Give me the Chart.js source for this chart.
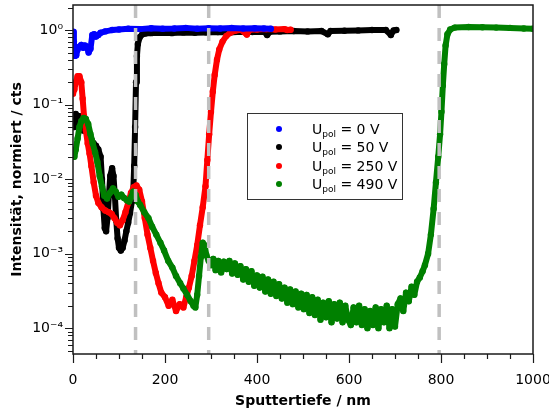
<!DOCTYPE html>
<html>
<head>
<meta charset="utf-8">
<script src="https://cdn.jsdelivr.net/npm/chart.js@4.4.0/dist/chart.umd.min.js"></script>
<style>
body{margin:0;background:#fff}
</style>
</head>
<body>
<canvas id="myChart" width="549" height="410"></canvas>
<script>
//data: sputter depth (nm) and normalised intensity (cts)
var blueDepth = [0, 2, 4, 7, 10, 14, 18, 22, 26, 30, 34, 38, 42, 46, 50, 55, 60, 70, 85, 100, 120, 145, 170, 195, 220, 245, 270, 295, 320, 345, 370, 395, 415, 430];
var blueInt = [0.95, 0.7, 0.45, 0.46, 0.55, 0.6, 0.63, 0.58, 0.62, 0.6, 0.5, 0.56, 0.86, 0.88, 0.82, 0.86, 0.92, 0.96, 1.0, 1.02, 1.04, 1.03, 1.06, 1.04, 1.05, 1.07, 1.04, 1.06, 1.05, 1.07, 1.05, 1.06, 1.05, 1.04];

var blackDepth = [0, 3, 6, 10, 14, 18, 22, 26, 30, 35, 40, 45, 50, 55, 60, 63, 66, 69, 72, 75, 78, 81, 85, 88, 91, 94, 97, 100, 104, 108, 112, 116, 120, 124, 128, 131, 133, 135, 137, 139, 141, 145, 150, 157, 170, 190, 215, 240, 265, 290, 315, 340, 365, 390, 415, 422, 428, 450, 480, 510, 540, 554, 560, 590, 620, 650, 680, 691, 697, 703];
var blackInt = [0.065, 0.05, 0.075, 0.06, 0.07, 0.05, 0.045, 0.05, 0.042, 0.038, 0.034, 0.03, 0.028, 0.025, 0.02, 0.01, 0.004, 0.0022, 0.002, 0.003, 0.006, 0.011, 0.014, 0.011, 0.006, 0.0028, 0.0016, 0.0012, 0.0011, 0.0012, 0.0015, 0.002, 0.0026, 0.0035, 0.005, 0.007, 0.015, 0.05, 0.2, 0.45, 0.65, 0.8, 0.87, 0.9, 0.91, 0.92, 0.91, 0.93, 0.92, 0.93, 0.94, 0.93, 0.95, 0.94, 0.95, 0.86, 0.95, 0.96, 0.97, 0.96, 0.97, 0.88, 0.97, 0.98, 0.99, 1.0, 1.0, 0.86, 0.99, 1.0];

var redDepth = [0, 3, 6, 10, 14, 18, 21, 24, 28, 32, 36, 40, 45, 50, 55, 62, 70, 78, 84, 90, 96, 102, 108, 114, 120, 126, 132, 138, 144, 150, 156, 162, 168, 174, 180, 186, 192, 200, 208, 216, 224, 232, 240, 246, 252, 258, 264, 270, 276, 282, 288, 292, 296, 300, 304, 308, 313, 318, 325, 333, 342, 352, 365, 378, 384, 400, 420, 440, 460, 466, 473];
var redInt = [0.14, 0.16, 0.2, 0.24, 0.24, 0.2, 0.12, 0.07, 0.045, 0.03, 0.022, 0.015, 0.009, 0.006, 0.0048, 0.0042, 0.0038, 0.0036, 0.0034, 0.003, 0.0026, 0.0024, 0.0028, 0.0036, 0.0048, 0.0065, 0.0078, 0.0082, 0.0072, 0.005, 0.003, 0.0018, 0.0012, 0.0008, 0.00055, 0.0004, 0.0003, 0.00026, 0.0002, 0.00024, 0.00017, 0.00021, 0.00019, 0.00026, 0.00035, 0.0005, 0.0008, 0.0013, 0.0024, 0.0042, 0.008, 0.018, 0.04, 0.08, 0.15, 0.25, 0.4, 0.55, 0.7, 0.83, 0.92, 0.98, 1.01, 0.87, 1.01, 1.02, 1.03, 1.02, 1.03, 1.0, 1.01];

var greenDepth = [0, 3, 6, 10, 14, 18, 23, 28, 33, 38, 43, 48, 53, 58, 63, 68, 74, 80, 87, 93, 99, 105, 111, 117, 122, 127, 131, 136, 141, 146, 155, 164, 172, 181, 190, 198, 207, 216, 224, 233, 240, 248, 256, 262, 266, 270, 274, 278, 282, 286, 290, 295, 300,
  305, 310, 316, 322, 328, 334, 340, 346, 352, 358, 364, 370, 376, 382, 388, 394, 400, 406, 412, 418, 424, 430, 436, 442, 448, 454, 460, 466, 472, 478, 484, 490, 496, 502, 508, 514, 520, 526, 532, 538, 544, 550, 556, 562, 568, 574, 580, 586, 592, 598, 604, 610, 616, 622, 628, 634, 640, 646, 652, 658, 664, 670, 676, 682, 688, 694, 700, 706, 712, 718, 724, 730, 736, 742, 748, 754, 760,
  765, 772, 778, 784, 789, 794, 798, 801, 804, 807, 810, 814, 820, 830, 860, 890, 920, 950, 980, 1000];
var greenInt = [0.022, 0.02, 0.025, 0.035, 0.05, 0.06, 0.066, 0.064, 0.055, 0.04, 0.03, 0.023, 0.017, 0.011, 0.008, 0.006, 0.0055, 0.0065, 0.0075, 0.0068, 0.0058, 0.0062, 0.0056, 0.0052, 0.005, 0.0058, 0.0068, 0.0062, 0.005, 0.0045, 0.0036, 0.003, 0.0023, 0.0018, 0.0014, 0.0011, 0.0008, 0.00065, 0.0005, 0.0004, 0.00034, 0.00028, 0.00023, 0.0002, 0.00019, 0.00028, 0.0005, 0.0009, 0.0014, 0.0013, 0.00095, 0.0008, 0.0007,
  8.5e-4, 6.0e-4, 8.0e-4, 5.6e-4, 7.8e-4, 6.2e-4, 8.0e-4, 5.4e-4, 7.4e-4, 5.2e-4, 6.8e-4, 4.5e-4, 6.2e-4, 4.2e-4, 5.8e-4, 3.7e-4, 5.1e-4, 3.5e-4, 4.9e-4, 3.1e-4, 4.5e-4, 2.9e-4, 4.2e-4, 2.7e-4, 3.9e-4, 2.5e-4, 3.5e-4, 2.2e-4, 3.3e-4, 2.1e-4, 3.1e-4, 1.9e-4, 2.9e-4, 1.8e-4, 2.8e-4, 1.6e-4, 2.6e-4, 1.5e-4, 2.4e-4, 1.3e-4, 2.2e-4, 1.4e-4, 2.3e-4, 1.2e-4, 2.1e-4, 1.35e-4, 2.2e-4, 1.2e-4, 2.0e-4, 1.3e-4, 1.1e-4, 1.9e-4, 1.2e-4, 2.0e-4, 1.1e-4, 1.8e-4, 1.0e-4, 1.7e-4, 1.1e-4, 1.9e-4, 1.0e-4, 1.8e-4, 1.2e-4, 2.0e-4, 1.0e-4, 1.8e-4, 1.05e-4, 2.1e-4, 2.5e-4, 1.7e-4, 3.0e-4, 2.3e-4, 3.6e-4, 2.8e-4, 4.2e-4, 4.8e-4, 5.8e-4,
  7e-4, 0.001, 0.0018, 0.004, 0.009, 0.02, 0.04, 0.08, 0.18, 0.35, 0.62, 0.88, 1.02, 1.08, 1.1, 1.09, 1.08, 1.07, 1.05, 1.04];

var seriesLabels = ['0 V', '50 V', '250 V', '490 V'];
var seriesColors = ['#0000ff', '#000000', '#ff0000', '#008000'];
var seriesOrder = [1, 3, 2, 0];

//axis ticks
var xTickLabels = [0, 200, 400, 600, 800, 1000];
var yExponents = [-4, -3, -2, -1, 0];
var yTickLabels = ['10\u207B\u2074', '10\u207B\u00B3', '10\u207B\u00B2', '10\u207B\u00B9', '10\u2070'];
var yMin = 4.5e-5, yMax = 2.17;

//dashed layer boundaries (nm)
var boundaries = [136, 295, 796];

function toPoints(xs, ys) {
	return xs.map(function(x, i) { return {x: x, y: ys[i]}; });
}
var allDepth = [blueDepth, blackDepth, redDepth, greenDepth];
var allInt = [blueInt, blackInt, redInt, greenInt];

var datasets = seriesLabels.map(function(lab, i) {
	return {
		label: 'Upol = ' + lab,
		data: toPoints(allDepth[i], allInt[i]),
		showLine: true,
		borderColor: seriesColors[i],
		backgroundColor: seriesColors[i],
		borderWidth: 6,
		borderJoinStyle: 'round',
		borderCapStyle: 'round',
		pointRadius: 3.2,
		pointBorderWidth: 0,
		pointBackgroundColor: seriesColors[i],
		order: seriesOrder[i]
	};
});

var xMinor = [];
for (var v = 0; v <= 1000; v += 50) xMinor.push(v);
var yMinor = [];
for (var e = -5; e <= 0; e++) {
	for (var m = 1; m <= 9; m++) {
		var val = m * Math.pow(10, e);
		if (val >= yMin && val <= yMax) yMinor.push(val);
	}
}
function decadeOf(value) {
	var ex = Math.round(Math.log10(value));
	if (Math.abs(value / Math.pow(10, ex) - 1) < 1e-6) return ex;
	return null;
}

var font = 'DejaVu Sans';

//frame, tick marks and dashed lines
var framePlugin = {
	id: 'frame',
	afterDatasetsDraw: function(chart) {
		var ctx = chart.ctx, a = chart.chartArea, xs = chart.scales.x;
		ctx.save();
		ctx.beginPath();
		ctx.rect(a.left, a.top, a.right - a.left, a.bottom - a.top);
		ctx.clip();
		ctx.strokeStyle = '#c0c0c0';
		ctx.lineWidth = 3.5;
		ctx.setLineDash([13, 10]);
		boundaries.forEach(function(b) {
			var px = xs.getPixelForValue(b);
			ctx.beginPath();
			ctx.moveTo(px, a.top);
			ctx.lineTo(px, a.bottom);
			ctx.stroke();
		});
		ctx.restore();
	},
	afterDraw: function(chart) {
		var ctx = chart.ctx, a = chart.chartArea, xs = chart.scales.x, ys = chart.scales.y;
		ctx.save();
		ctx.strokeStyle = '#1a1a1a';
		ctx.lineWidth = 1.5;
		ctx.strokeRect(a.left, a.top, a.right - a.left, a.bottom - a.top);
		ctx.lineWidth = 1.2;
		ctx.beginPath();
		xMinor.forEach(function(t) {
			var px = Math.round(xs.getPixelForValue(t)) + 0.5;
			var len = xTickLabels.indexOf(t) >= 0 ? 9 : 5;
			ctx.moveTo(px, a.bottom);
			ctx.lineTo(px, a.bottom + len);
		});
		yMinor.forEach(function(t) {
			var py = Math.round(ys.getPixelForValue(t)) + 0.5;
			var len = decadeOf(t) !== null ? 8 : 5;
			ctx.moveTo(a.left - len, py);
			ctx.lineTo(a.left, py);
		});
		ctx.stroke();
		ctx.restore();
	}
};

//legend box with subscript
var legendPlugin = {
	id: 'legendBox',
	afterDraw: function(chart) {
		var ctx = chart.ctx;
		var bx = 247.5, by = 113.5, bw = 155, bh = 86;
		var rowY = [129, 147, 166, 184];
		ctx.save();
		ctx.fillStyle = '#fff';
		ctx.fillRect(bx, by, bw, bh);
		ctx.strokeStyle = '#333';
		ctx.lineWidth = 1;
		ctx.strokeRect(bx, by, bw, bh);
		seriesLabels.forEach(function(lab, i) {
			var y = rowY[i];
			ctx.fillStyle = seriesColors[i];
			ctx.beginPath();
			ctx.arc(279, y, 3, 0, Math.PI * 2);
			ctx.fill();
			ctx.fillStyle = '#000';
			ctx.textBaseline = 'alphabetic';
			ctx.font = '14px "' + font + '"';
			var x = 312;
			ctx.fillText('U', x, y + 5);
			x += ctx.measureText('U').width;
			ctx.font = '9px "' + font + '"';
			ctx.fillText('pol', x, y + 8);
			x += ctx.measureText('pol').width;
			ctx.font = '14px "' + font + '"';
			ctx.fillText(' = ' + lab, x, y + 5);
		});
		ctx.restore();
	}
};

var myChart = new Chart(document.getElementById('myChart').getContext('2d'), {
	type: 'scatter',
	data: { datasets: datasets },
	options: {
		responsive: false,
		animation: false,
		layout: { padding: { left: 0, top: 5, right: 16, bottom: 0 } },
		plugins: { legend: { display: false }, tooltip: { enabled: false } },
		scales: {
			x: {
				type: 'linear', min: 0, max: 1000,
				afterBuildTicks: function(s) { s.ticks = xMinor.map(function(v) { return {value: v}; }); },
				afterFit: function(s) { s.height = 56; s.paddingLeft = 0; s.paddingRight = 0; },
				ticks: {
					autoSkip: false, maxRotation: 0, padding: 18, color: '#000',
					font: { family: font, size: 14 },
					callback: function(v) { return xTickLabels.indexOf(v) >= 0 ? String(v) : ''; }
				},
				grid: { display: false, drawTicks: false },
				border: { display: false },
				title: {
					display: true, text: 'Sputtertiefe / nm', color: '#000',
					font: { family: font, size: 14, weight: 'bold' },
					padding: { top: 0, bottom: 0 }
				}
			},
			y: {
				type: 'logarithmic', min: yMin, max: yMax,
				afterBuildTicks: function(s) { s.ticks = yMinor.map(function(v) { return {value: v}; }); },
				afterFit: function(s) { s.width = 73; s.paddingTop = 0; s.paddingBottom = 0; },
				ticks: {
					autoSkip: false, padding: 10, color: '#000',
					font: { family: font, size: 14 },
					callback: function(v) {
						var ex = decadeOf(v);
						var k = yExponents.indexOf(ex);
						return k >= 0 ? yTickLabels[k] : '';
					}
				},
				grid: { display: false, drawTicks: false },
				border: { display: false },
				title: {
					display: true, text: 'Intensit\u00E4t, normiert / cts', color: '#000',
					font: { family: font, size: 14, weight: 'bold' },
					padding: { top: 9, bottom: 0 }
				}
			}
		}
	},
	plugins: [framePlugin, legendPlugin]
});
</script>
</body>
</html>
